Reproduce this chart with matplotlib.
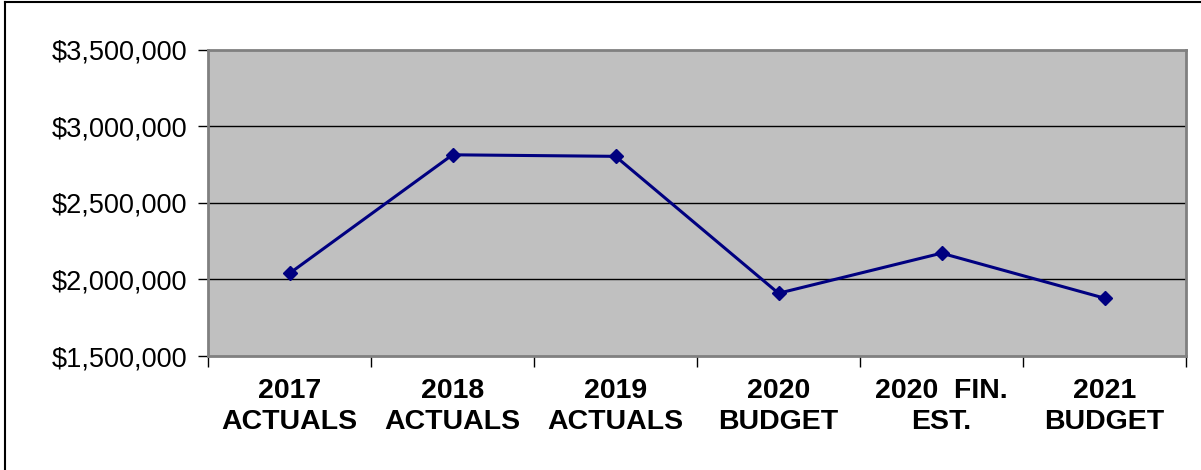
import matplotlib
matplotlib.use("Agg")
import matplotlib.pyplot as plt
from matplotlib.ticker import FuncFormatter, FixedLocator
from matplotlib.lines import Line2D

categories = ["2017\nACTUALS", "2018\nACTUALS", "2019\nACTUALS",
              "2020\nBUDGET", "2020  FIN.\nEST.", "2021\nBUDGET"]
values = [2040000, 2815000, 2805000, 1910000, 2172000, 1878000]
y_ticks = [1500000, 2000000, 2500000, 3000000, 3500000]

plt.rcParams["font.family"] = ["Liberation Sans", "DejaVu Sans"]

W, H = 1201, 470
fig = plt.figure(figsize=(W / 100, H / 100), dpi=100)
ax = fig.add_axes([208 / W, 1 - 356 / H, (1186 - 208) / W, (356 - 50) / H])
ax.set_facecolor("#C0C0C0")

n = len(categories)
xs = list(range(n))
ax.set_xlim(-0.5, n - 0.5)
ax.set_ylim(y_ticks[0], y_ticks[-1])

for v in y_ticks[1:-1]:
    ax.axhline(v, color="black", lw=1.0, zorder=1)

ax.plot(xs, values, color="#000080", lw=2.2, marker="D", ms=7.5,
        markerfacecolor="#000080", markeredgecolor="#000080", zorder=3)

ax.yaxis.set_major_locator(FixedLocator(y_ticks))
ax.yaxis.set_major_formatter(FuncFormatter(lambda v, p: f"${v:,.0f}"))
ax.tick_params(axis="y", labelsize=19.5, length=7, width=1, direction="out",
               pad=8, colors="black")

# category labels centred, tick marks at category boundaries
ax.set_xticks([i - 0.5 for i in range(n + 1)], minor=False)
ax.set_xticklabels([""] * (n + 1))
ax.tick_params(axis="x", which="major", length=8, width=1, direction="out")
ax.set_xticks(xs, minor=True)
ax.set_xticklabels(categories, minor=True, fontsize=20.5, fontweight="bold",
                   linespacing=1.22)
ax.tick_params(axis="x", which="minor", length=0, pad=16)

for side in ["left", "top", "right", "bottom"]:
    ax.spines[side].set_color("#808080")
    ax.spines[side].set_linewidth(2)

# outer chart frame
fig.add_artist(Line2D([5 / W, 5 / W], [0, 1 - 2 / H], transform=fig.transFigure,
                      color="black", lw=1.5))
fig.add_artist(Line2D([5 / W, 1], [1 - 2 / H, 1 - 2 / H], transform=fig.transFigure,
                      color="black", lw=1.5))

fig.savefig("out.png", dpi=100, facecolor="white")
